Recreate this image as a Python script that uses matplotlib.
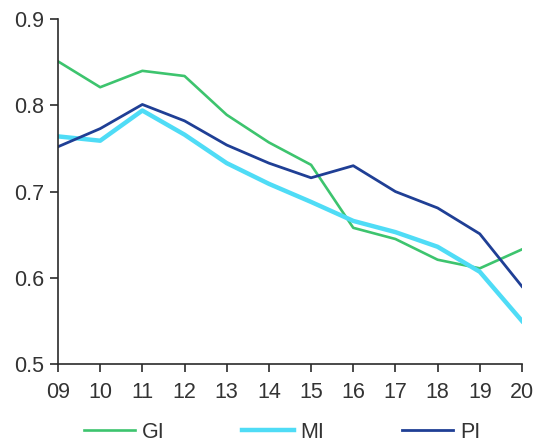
import numpy as np
import matplotlib
matplotlib.use("Agg")
import matplotlib.pyplot as plt

plt.rcParams["font.family"] = ["Liberation Sans", "DejaVu Sans"]

years = ["09", "10", "11", "12", "13", "14", "15", "16", "17", "18", "19", "20"]
gi = [0.851, 0.821, 0.840, 0.834, 0.789, 0.757, 0.731, 0.658, 0.645, 0.621, 0.611, 0.633]
mi = [0.764, 0.759, 0.794, 0.766, 0.733, 0.709, 0.688, 0.666, 0.653, 0.636, 0.607, 0.550]
pi = [0.752, 0.773, 0.801, 0.782, 0.754, 0.733, 0.716, 0.730, 0.700, 0.681, 0.651, 0.590]

AXIS_COLOR = "#2b2b2b"
TEXT_COLOR = "#333333"

fig = plt.figure(figsize=(5.37, 4.44), dpi=100)
ax = fig.add_axes([0.108, 0.180, 0.864, 0.777])

x = np.arange(len(years))
ax.plot(x, gi, color="#3dc46e", linewidth=1.9, label="GI")
ax.plot(x, mi, color="#4fdcf6", linewidth=3.2, label="MI")
ax.plot(x, pi, color="#1f3f95", linewidth=2.0, label="PI")

ax.set_xlim(0, len(years) - 1)
ax.set_ylim(0.5, 0.9)
ax.set_xticks(x)
ax.set_xticklabels(years)
ax.set_yticks([0.5, 0.6, 0.7, 0.8, 0.9])
ax.set_yticklabels(["0.5", "0.6", "0.7", "0.8", "0.9"])

for side in ["top", "right"]:
    ax.spines[side].set_visible(False)
for side in ["left", "bottom"]:
    ax.spines[side].set_color(AXIS_COLOR)
    ax.spines[side].set_linewidth(1.2)
ax.tick_params(direction="out", length=6, width=1.2, colors=AXIS_COLOR,
               labelcolor=TEXT_COLOR, labelsize=15.5, pad=4)
ax.tick_params(axis="x", pad=7)

ax.legend(loc="center", bbox_to_anchor=(0.525, 0.027), bbox_transform=fig.transFigure,
          ncol=3, frameon=False, fontsize=15.5, handlelength=2.4, columnspacing=3.6,
          handletextpad=0.3, labelcolor=TEXT_COLOR)

fig.savefig("out.png", dpi=100, facecolor="white")
